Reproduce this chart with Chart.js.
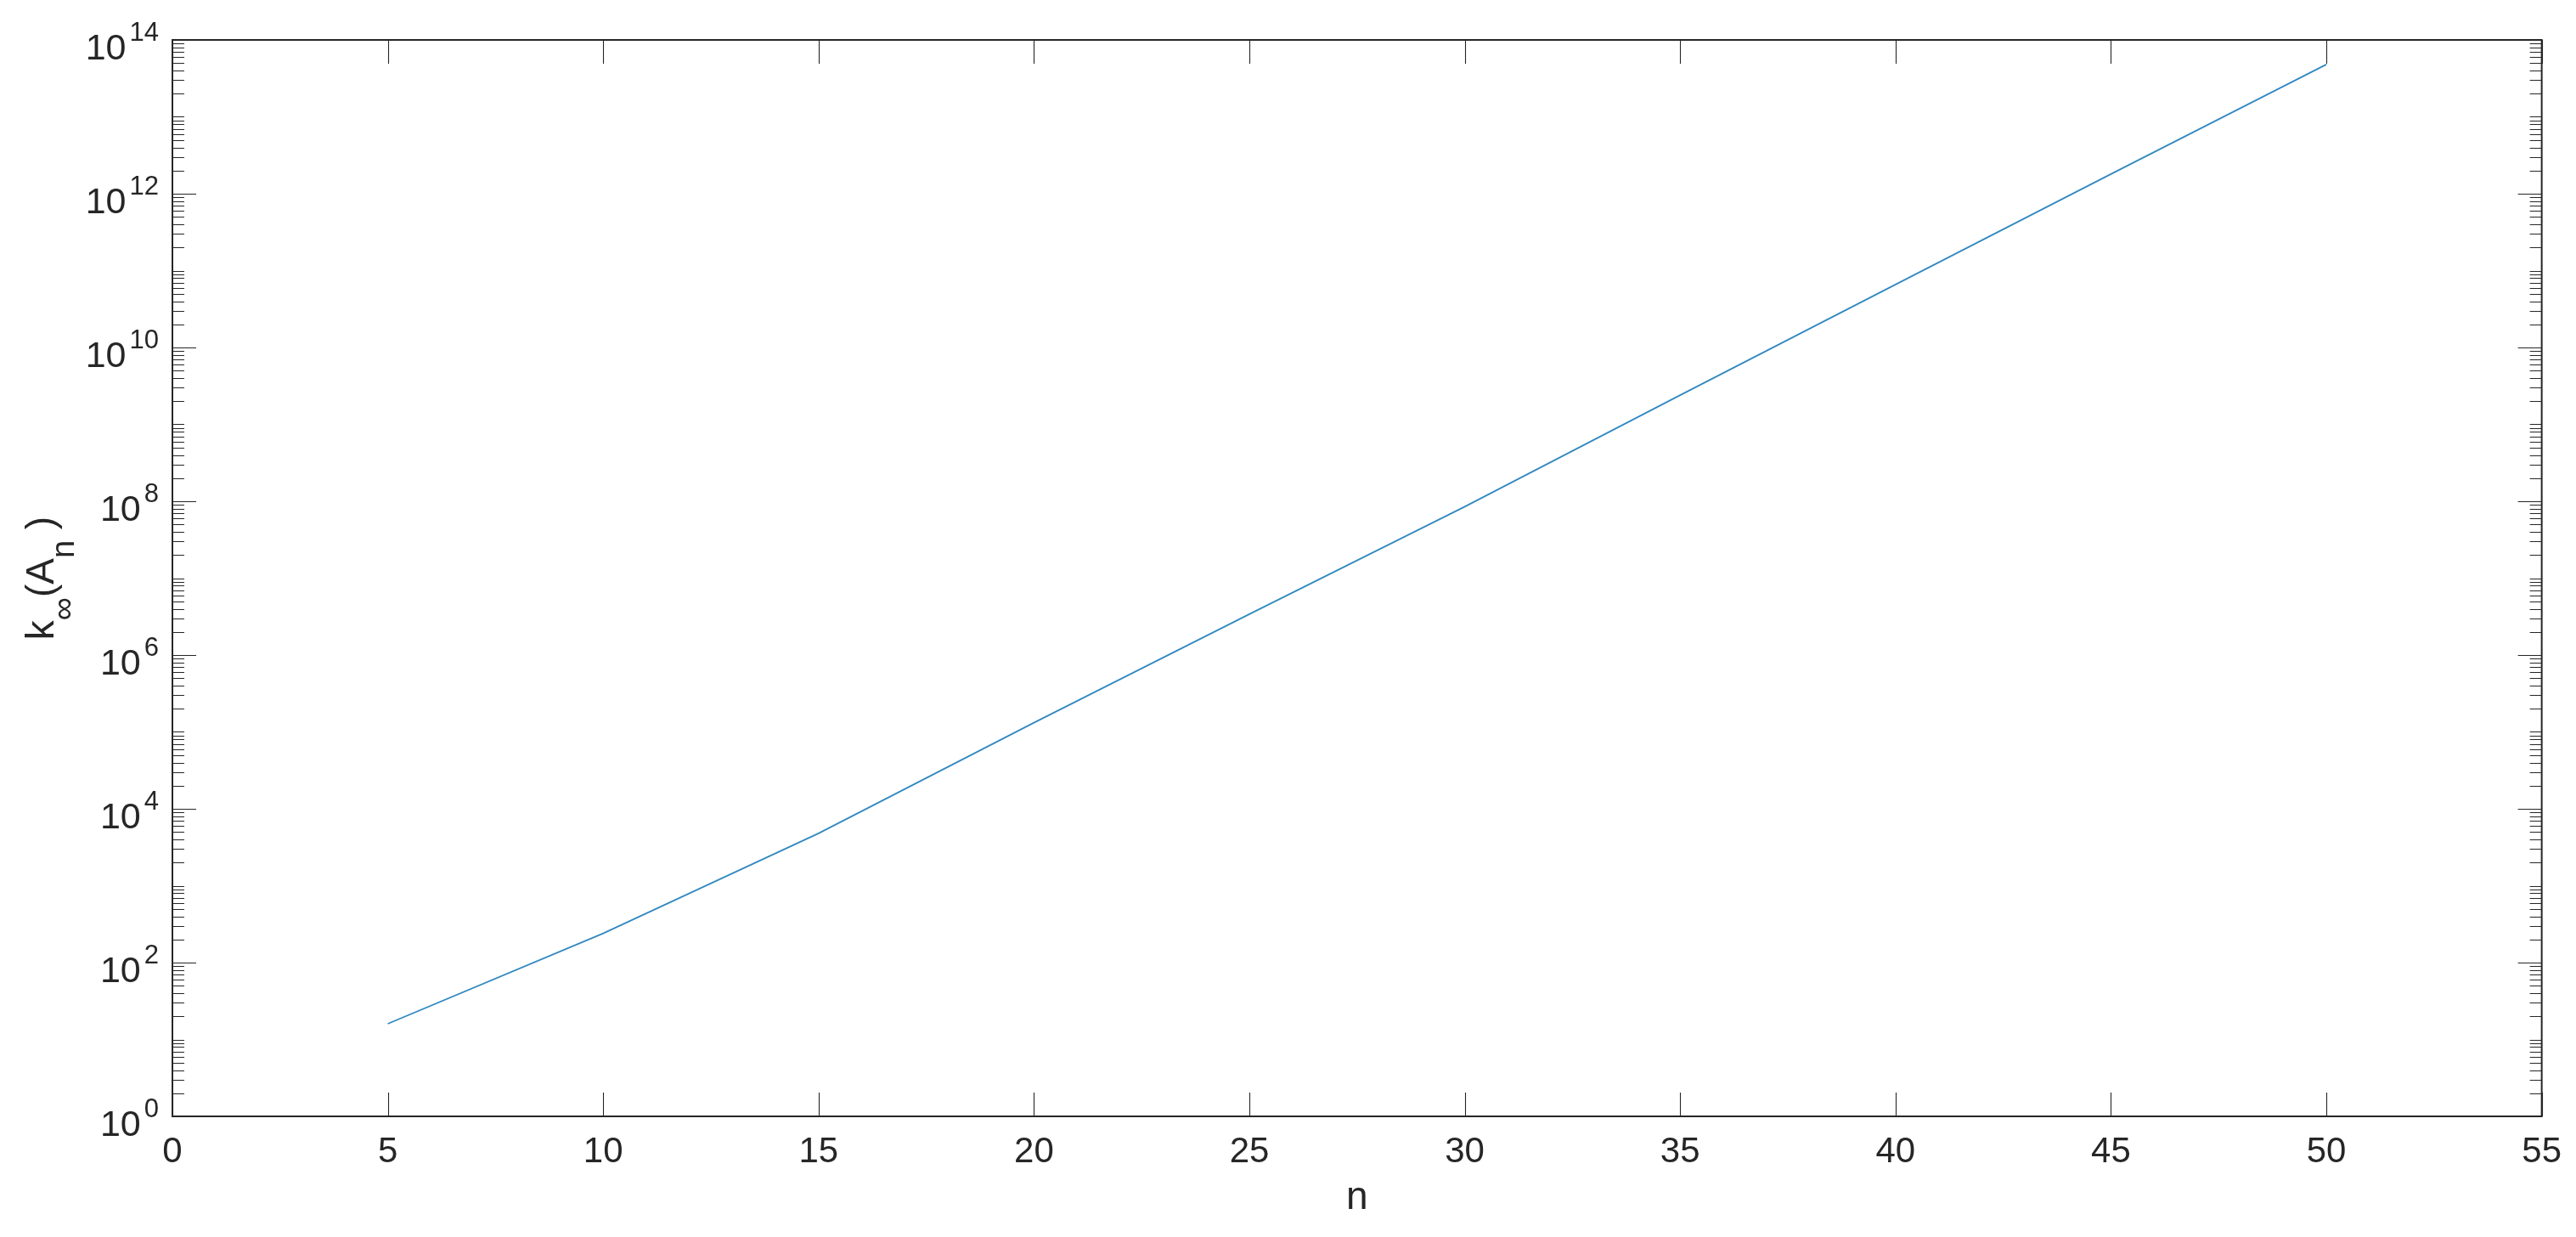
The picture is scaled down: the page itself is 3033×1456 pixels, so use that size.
<!DOCTYPE html>
<html>
<head>
<meta charset="utf-8">
<script src="https://cdn.jsdelivr.net/npm/chart.js@4/dist/chart.umd.min.js"></script>
<style>
  html, body { margin: 0; padding: 0; background: #fff; }
  canvas { display: block; }
</style>
</head>
<body>
<canvas id="kChart" width="3033" height="1456"></canvas>
<script>
// data
const nValues = [5, 10, 15, 20, 25, 30, 35, 40, 45, 50];
const kValues = [16, 240, 4.8e3, 1.32e5, 3.4e6, 8.5e7, 2.4e9, 6.6e10, 1.8e12, 4.8e13];

// axis ticks
const xTicks = [0, 5, 10, 15, 20, 25, 30, 35, 40, 45, 50, 55];
const yTickExps = [0, 2, 4, 6, 8, 10, 12, 14];

const FONT = '"Liberation Sans", Arial, Helvetica, sans-serif';
const AXIS_COLOR = '#262626';

// MATLAB style box: inward ticks on all four sides, plus 10^n labels and the y title
const matlabAxes = {
    id: 'matlabAxes',
    afterDraw(chart) {
        const ctx = chart.ctx;
        const area = chart.chartArea;
        const xs = chart.scales.x;
        const ys = chart.scales.y;
        ctx.save();
        ctx.strokeStyle = AXIS_COLOR;
        ctx.fillStyle = AXIS_COLOR;

        // ticks
        ctx.lineWidth = 1.1;
        ctx.beginPath();
        xTicks.forEach(v => {
            const px = Math.round(xs.getPixelForValue(v)) + 0.5;
            ctx.moveTo(px, area.bottom); ctx.lineTo(px, area.bottom - 28);
            ctx.moveTo(px, area.top); ctx.lineTo(px, area.top + 28);
        });
        for (let e = 0; e <= 14; e++) {
            const mMax = e === 14 ? 1 : 9;
            for (let m = 1; m <= mMax; m++) {
                const py = Math.round(ys.getPixelForValue(m * Math.pow(10, e))) + 0.5;
                const len = (m === 1 && yTickExps.includes(e)) ? 28 : 14;
                ctx.moveTo(area.left, py); ctx.lineTo(area.left + len, py);
                ctx.moveTo(area.right, py); ctx.lineTo(area.right - len, py);
            }
        }
        ctx.stroke();

        // box
        ctx.lineWidth = 2;
        ctx.strokeRect(area.left, area.top, area.right - area.left, area.bottom - area.top);

        // y tick labels: 10 with superscript exponent
        ctx.textAlign = 'right';
        ctx.textBaseline = 'alphabetic';
        const labelRight = area.left - 16;
        yTickExps.forEach(e => {
            const py = ys.getPixelForValue(Math.pow(10, e));
            ctx.font = '31px ' + FONT;
            const exp = String(e);
            const w = ctx.measureText(exp).width;
            ctx.fillText(exp, labelRight, py + 1);
            ctx.font = '43px ' + FONT;
            ctx.fillText('10', labelRight - w - 4, py + 23);
        });

        // y title: k_inf(A_n )
        const parts = [
            { t: 'k', size: 46, dy: 0 },
            { t: '\u221E', size: 38, dy: 24 },
            { t: '(A', size: 46, dy: 0 },
            { t: 'n', size: 38, dy: 24 },
            { t: ' )', size: 46, dy: 0 }
        ];
        let total = 0;
        parts.forEach(p => {
            ctx.font = p.size + 'px ' + FONT;
            p.w = ctx.measureText(p.t).width;
            total += p.w;
        });
        const cy = (area.top + area.bottom) / 2;
        ctx.translate(63, cy);
        ctx.rotate(-Math.PI / 2);
        ctx.textAlign = 'left';
        let x = -total / 2;
        parts.forEach(p => {
            ctx.font = p.size + 'px ' + FONT;
            ctx.fillText(p.t, x, p.dy);
            x += p.w;
        });
        ctx.restore();
    }
};

const ctx = document.getElementById('kChart').getContext('2d');
const kChart = new Chart(ctx, {
    type: 'line',
    data: {
        datasets: [{
            data: nValues.map((n, i) => ({ x: n, y: kValues[i] })),
            borderColor: '#3389c0',
            borderWidth: 1.8,
            pointRadius: 0,
            tension: 0,
            fill: false
        }]
    },
    options: {
        responsive: false,
        animation: false,
        layout: { padding: { top: 47, right: 37, left: 0, bottom: 0 } },
        plugins: { legend: { display: false }, tooltip: { enabled: false } },
        scales: {
            x: {
                type: 'linear',
                min: 0,
                max: 55,
                afterBuildTicks: (scale) => { scale.ticks = xTicks.map(v => ({ value: v })); },
                ticks: {
                    color: AXIS_COLOR,
                    font: { family: FONT, size: 42 },
                    padding: 17,
                    maxRotation: 0
                },
                grid: { display: false, drawTicks: false },
                border: { display: false },
                title: {
                    display: true,
                    text: 'n',
                    color: AXIS_COLOR,
                    font: { family: FONT, size: 46 },
                    padding: { top: 0, bottom: 18 }
                },
                afterFit: (scale) => { scale.height = 142; }
            },
            y: {
                type: 'logarithmic',
                min: 1,
                max: 1e14,
                afterBuildTicks: (scale) => { scale.ticks = yTickExps.map(e => ({ value: Math.pow(10, e) })); },
                ticks: { display: false },
                grid: { display: false, drawTicks: false },
                border: { display: false },
                afterFit: (scale) => { scale.width = 203; }
            }
        }
    },
    plugins: [matlabAxes]
});
</script>
</body>
</html>
